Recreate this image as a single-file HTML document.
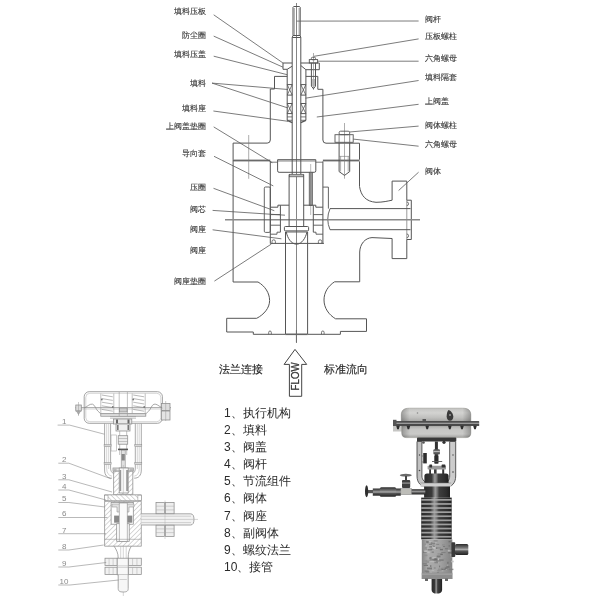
<!DOCTYPE html>
<html><head><meta charset="utf-8"><style>
html,body{margin:0;padding:0;background:#fff;width:600px;height:596px;overflow:hidden}
svg{display:block;font-family:"Liberation Sans",sans-serif;filter:blur(0.25px)}
</style></head><body>
<svg width="600" height="596" viewBox="0 0 600 596">
<defs>
<linearGradient id="gHousT" x1="0" y1="0" x2="0" y2="1"><stop offset="0" stop-color="#c4c4c2"/><stop offset="0.35" stop-color="#d3d3d1"/><stop offset="0.7" stop-color="#c0c0be"/><stop offset="1" stop-color="#a6a6a4"/></linearGradient>
<linearGradient id="gHousB" x1="0" y1="0" x2="0" y2="1"><stop offset="0" stop-color="#aeaeac"/><stop offset="0.3" stop-color="#c6c6c4"/><stop offset="0.7" stop-color="#cacac8"/><stop offset="1" stop-color="#a2a2a0"/></linearGradient>
<linearGradient id="gHousH" x1="0" y1="0" x2="1" y2="0"><stop offset="0" stop-color="#000" stop-opacity="0.25"/><stop offset="0.12" stop-color="#000" stop-opacity="0"/><stop offset="0.88" stop-color="#000" stop-opacity="0"/><stop offset="1" stop-color="#000" stop-opacity="0.25"/></linearGradient>
<linearGradient id="gCyl" x1="0" y1="0" x2="1" y2="0"><stop offset="0" stop-color="#2a2a2a"/><stop offset="0.3" stop-color="#3a3a3a"/><stop offset="0.43" stop-color="#9a9a9a"/><stop offset="0.5" stop-color="#7a7a7a"/><stop offset="0.58" stop-color="#3e3e3e"/><stop offset="0.85" stop-color="#2e2e2e"/><stop offset="1" stop-color="#1e1e1e"/></linearGradient>
<linearGradient id="gCylH" x1="0" y1="0" x2="0" y2="1"><stop offset="0" stop-color="#2a2a2a"/><stop offset="0.35" stop-color="#777"/><stop offset="0.5" stop-color="#aaa"/><stop offset="0.65" stop-color="#555"/><stop offset="1" stop-color="#222"/></linearGradient>
<linearGradient id="gBody" x1="0" y1="0" x2="1" y2="0"><stop offset="0" stop-color="#848484"/><stop offset="0.2" stop-color="#acacac"/><stop offset="0.6" stop-color="#a2a2a2"/><stop offset="1" stop-color="#828282"/></linearGradient>
<linearGradient id="gYoke" x1="0" y1="0" x2="1" y2="0"><stop offset="0" stop-color="#bdbdbd"/><stop offset="0.5" stop-color="#e2e2e2"/><stop offset="1" stop-color="#c8c8c8"/></linearGradient>
<pattern id="hA" width="3.4" height="3.4" patternUnits="userSpaceOnUse" patternTransform="rotate(45)"><rect width="3.4" height="3.4" fill="#fff"/><line x1="0" y1="0" x2="0" y2="3.4" stroke="#a8a8a8" stroke-width="0.9"/></pattern>
<pattern id="hB" width="3.4" height="3.4" patternUnits="userSpaceOnUse" patternTransform="rotate(-45)"><rect width="3.4" height="3.4" fill="#fff"/><line x1="0" y1="0" x2="0" y2="3.4" stroke="#a8a8a8" stroke-width="0.9"/></pattern>
</defs>
<rect width="600" height="596" fill="#fff"/>
<g id="main">
<line x1="296.5" y1="3" x2="296.5" y2="343" stroke="#666" stroke-width="0.8" />
<path d="M293,35.5 L293,7.3 L293.7,6.5 L299.5,6.5 L300.2,7.3 L300.2,35.5" stroke="#555" stroke-width="1.0" fill="none" />
<line x1="294.3" y1="8" x2="294.3" y2="35" stroke="#777" stroke-width="0.7" />
<line x1="299.1" y1="8" x2="299.1" y2="35" stroke="#777" stroke-width="0.7" />
<path d="M292.2,37.5 L293,35.5 L300.2,35.5 L300.8,37.5 Z" stroke="#555" stroke-width="1.0" fill="none" />
<line x1="292.2" y1="37.5" x2="292.2" y2="174.5" stroke="#555" stroke-width="1.0" />
<line x1="300.8" y1="37.5" x2="300.8" y2="174.5" stroke="#555" stroke-width="1.0" />
<path d="M292.2,63 L283,63 L283,69.3 L287.2,69.3 L292,66.3" stroke="#555" stroke-width="1.0" fill="none" />
<path d="M300.8,63 L319.3,63 L319.3,69.7 L305.9,69.7 L300.9,65.6" stroke="#555" stroke-width="1.0" fill="none" />
<line x1="287.2" y1="69.3" x2="287.2" y2="120.3" stroke="#555" stroke-width="1.0" />
<line x1="305.9" y1="69.7" x2="305.9" y2="120.3" stroke="#555" stroke-width="1.0" />
<line x1="287.2" y1="84.6" x2="292.2" y2="84.6" stroke="#555" stroke-width="1.0" />
<line x1="287.2" y1="95.1" x2="292.2" y2="95.1" stroke="#555" stroke-width="1.0" />
<line x1="287.2" y1="84.6" x2="292.2" y2="95.1" stroke="#555" stroke-width="0.8" />
<line x1="292.2" y1="84.6" x2="287.2" y2="95.1" stroke="#555" stroke-width="0.8" />
<line x1="300.8" y1="84.6" x2="305.9" y2="84.6" stroke="#555" stroke-width="1.0" />
<line x1="300.8" y1="95.1" x2="305.9" y2="95.1" stroke="#555" stroke-width="1.0" />
<line x1="300.8" y1="84.6" x2="305.9" y2="95.1" stroke="#555" stroke-width="0.8" />
<line x1="305.9" y1="84.6" x2="300.8" y2="95.1" stroke="#555" stroke-width="0.8" />
<line x1="287.2" y1="103.5" x2="292.2" y2="103.5" stroke="#555" stroke-width="1.0" />
<line x1="287.2" y1="113.6" x2="292.2" y2="113.6" stroke="#555" stroke-width="1.0" />
<line x1="287.2" y1="103.5" x2="292.2" y2="113.6" stroke="#555" stroke-width="0.8" />
<line x1="292.2" y1="103.5" x2="287.2" y2="113.6" stroke="#555" stroke-width="0.8" />
<line x1="300.8" y1="103.5" x2="305.9" y2="103.5" stroke="#555" stroke-width="1.0" />
<line x1="300.8" y1="113.6" x2="305.9" y2="113.6" stroke="#555" stroke-width="1.0" />
<line x1="300.8" y1="103.5" x2="305.9" y2="113.6" stroke="#555" stroke-width="0.8" />
<line x1="305.9" y1="103.5" x2="300.8" y2="113.6" stroke="#555" stroke-width="0.8" />
<line x1="287.2" y1="116.9" x2="292.2" y2="116.9" stroke="#555" stroke-width="0.8" />
<line x1="287.2" y1="120.3" x2="292.2" y2="120.3" stroke="#555" stroke-width="0.8" />
<line x1="300.8" y1="116.9" x2="305.9" y2="116.9" stroke="#555" stroke-width="0.8" />
<line x1="300.8" y1="120.3" x2="305.9" y2="120.3" stroke="#555" stroke-width="0.8" />
<path d="M287.2,120.3 L292.2,122.6" stroke="#555" stroke-width="1.3" fill="none" />
<path d="M305.9,120.3 L300.8,122.6" stroke="#555" stroke-width="1.3" fill="none" />
<line x1="313.5" y1="53" x2="313.5" y2="90" stroke="#777" stroke-width="0.6" />
<rect x="311.4" y="57.3" width="4.1" height="2.4" fill="none" stroke="#555" stroke-width="0.9" rx="1" />
<rect x="309.3" y="59.6" width="8.3" height="3.4" fill="none" stroke="#555" stroke-width="0.9" rx="0" />
<path d="M311.4,63 L311.4,86 L313.45,88.8 L315.5,86 L315.5,63" stroke="#555" stroke-width="1.0" fill="none" />
<line x1="312.3" y1="79" x2="312.3" y2="86" stroke="#777" stroke-width="0.6" />
<line x1="314.6" y1="79" x2="314.6" y2="86" stroke="#777" stroke-width="0.6" />
<path d="M287.2,76.4 L274.5,76.4 L274.5,89 L270.3,89 L270.3,140" stroke="#555" stroke-width="1.0" fill="none" />
<path d="M270.3,140 Q270.3,143.1 267.2,143.1 L233.1,143.1 L233.1,159.7" stroke="#555" stroke-width="1.0" fill="none" />
<path d="M305.9,76.4 L317.8,76.4 L317.8,89.3 L322.9,89.3 L322.9,140" stroke="#555" stroke-width="1.0" fill="none" />
<path d="M322.9,140 Q322.9,143.2 326,143.2 L359.5,143.2 L359.5,159.7" stroke="#555" stroke-width="1.0" fill="none" />
<rect x="233.1" y="159.6" width="37.2" height="1.8" fill="#6a6a6a" stroke="none" stroke-width="0" rx="0" />
<rect x="322.9" y="159.6" width="36.6" height="1.8" fill="#6a6a6a" stroke="none" stroke-width="0" rx="0" />
<line x1="270.3" y1="162.2" x2="277.6" y2="162.2" stroke="#555" stroke-width="0.8" />
<line x1="315.8" y1="162.2" x2="322.9" y2="162.2" stroke="#555" stroke-width="0.8" />
<path d="M233.1,159.7 L233.1,282 L258,282 C265,286 269.6,293 269.6,300.5 C269.6,308 264,314.5 256.7,318.3 L226.7,318.3 L226.7,332 L253.3,332 L253.3,334.3 L285.3,334.3" stroke="#555" stroke-width="1.0" fill="none" />
<path d="M268.7,334.3 L268.7,332.3 A1.3,1.3 0 0 1 271.3,332.3 L271.3,334.3" stroke="#555" stroke-width="0.8" fill="none" />
<path d="M307.6,334.3 L340.4,334.3 L340.4,331.4 L366.5,331.4 L366.5,318.8 L335.6,318.8 C329,315 324,308 324,300 C324,292.5 328,286 334.6,281.8 L359.7,281.8 L359.7,252 C360,244 365,238 372,237.6 L392.1,238.5" stroke="#555" stroke-width="1.0" fill="none" />
<path d="M321.5,334.3 L321.5,332.3 A1.3,1.3 0 0 1 324.1,332.3 L324.1,334.3" stroke="#555" stroke-width="0.8" fill="none" />
<path d="M359.5,161.4 L359.5,186.4 C361,196 366,201.5 376,202.3 C383,202.3 388,201 392.1,200.2" stroke="#555" stroke-width="1.0" fill="none" />
<path d="M392.1,200.2 L392.1,181.1 L406.8,181.1 L406.8,200.2 L411.3,200.2 L411.3,239.5 L406.8,239.5 L406.8,258.6 L392.1,258.6 L392.1,238.5" stroke="#555" stroke-width="1.0" fill="none" />
<path d="M406.8,202 A1.8,1.8 0 0 1 406.8,205.6" stroke="#555" stroke-width="0.8" fill="none" />
<path d="M406.8,234 A1.8,1.8 0 0 1 406.8,237.6" stroke="#555" stroke-width="0.8" fill="none" />
<line x1="406.8" y1="200.2" x2="406.8" y2="239.5" stroke="#555" stroke-width="0.6" />
<line x1="330" y1="208.6" x2="410.5" y2="208.6" stroke="#555" stroke-width="1.0" />
<line x1="330" y1="229.7" x2="410.5" y2="229.7" stroke="#555" stroke-width="1.0" />
<path d="M330,208.6 Q325.5,219.2 330,229.7" stroke="#555" stroke-width="0.9" fill="none" />
<path d="M322.9,187.1 L328.4,187.1 L328.4,208.6" stroke="#555" stroke-width="0.9" fill="none" />
<line x1="225" y1="219.8" x2="420" y2="219.8" stroke="#8a8a8a" stroke-width="1.4" />
<line x1="270.3" y1="161.4" x2="270.3" y2="243.4" stroke="#555" stroke-width="1.0" />
<line x1="322.9" y1="161.4" x2="322.9" y2="243.4" stroke="#555" stroke-width="1.0" />
<line x1="270.3" y1="243.4" x2="323.9" y2="243.4" stroke="#555" stroke-width="1.0" />
<line x1="285.5" y1="232" x2="285.5" y2="334.3" stroke="#555" stroke-width="1.0" />
<line x1="307.6" y1="232" x2="307.6" y2="334.3" stroke="#555" stroke-width="1.0" />
<line x1="285.3" y1="334.3" x2="307.6" y2="334.3" stroke="#666" stroke-width="1.6" />
<rect x="264.3" y="187" width="6" height="45.4" fill="none" stroke="#555" stroke-width="0.9" rx="1.2" />
<path d="M277.6,159.7 L315.8,159.7 L315.8,170.8 Q315.8,172.3 314.3,172.3 L279.1,172.3 Q277.6,172.3 277.6,170.8 Z" stroke="#555" stroke-width="1.0" fill="none" />
<line x1="277.6" y1="161" x2="315.8" y2="161" stroke="#555" stroke-width="0.7" />
<rect x="309.2" y="172.3" width="3.2" height="33" fill="#9a9a9a" stroke="#555" stroke-width="0.7" rx="0" />
<line x1="310.7" y1="164" x2="310.7" y2="215" stroke="#777" stroke-width="0.5" />
<line x1="289.1" y1="174.5" x2="289.1" y2="226.5" stroke="#555" stroke-width="1.0" />
<line x1="303.7" y1="174.5" x2="303.7" y2="226.5" stroke="#555" stroke-width="1.0" />
<rect x="289.4" y="174.3" width="14" height="2.5" fill="#bbb" stroke="#555" stroke-width="0.7" rx="0" />
<path d="M289.1,205.2 L280.4,205.2 L280.4,232.2" stroke="#555" stroke-width="1.0" fill="none" />
<path d="M303.7,205.2 L313.3,205.2 L313.3,232.2" stroke="#555" stroke-width="1.0" fill="none" />
<path d="M270.3,207.2 L277.9,207.2 L277.9,205.2 L280.4,205.2" stroke="#555" stroke-width="1.0" fill="none" />
<path d="M322.9,207.2 L315.8,207.2 L315.8,205.2 L313.3,205.2" stroke="#555" stroke-width="1.0" fill="none" />
<line x1="270.3" y1="214.6" x2="280.4" y2="214.6" stroke="#555" stroke-width="0.9" />
<line x1="313.3" y1="214.6" x2="322.9" y2="214.6" stroke="#555" stroke-width="0.9" />
<line x1="270.3" y1="225.2" x2="280.4" y2="225.2" stroke="#555" stroke-width="0.9" />
<line x1="313.3" y1="225.2" x2="322.9" y2="225.2" stroke="#555" stroke-width="0.9" />
<rect x="284.4" y="226.5" width="24.2" height="4.4" fill="none" stroke="#555" stroke-width="1" rx="1" />
<line x1="285.5" y1="232" x2="307.6" y2="232" stroke="#555" stroke-width="0.9" />
<path d="M286.3,232 C287.5,238 291,244 296.6,244.2 C302,244 305.5,238 307,232" stroke="#555" stroke-width="1" fill="none" />
<path d="M280.4,232.2 L277,232.2 L277,234.2 L270.3,234.2" stroke="#555" stroke-width="0.9" fill="none" />
<path d="M313.3,232.2 L316,232.2 L316,234.2 L322.9,234.2" stroke="#555" stroke-width="0.9" fill="none" />
<path d="M272,243.4 L272,241.5 A1.7,1.7 0 0 1 275.4,241.5 L275.4,243.4" stroke="#555" stroke-width="0.8" fill="none" />
<path d="M318.4,243.4 L318.4,241.5 A1.7,1.7 0 0 1 321.8,241.5 L321.8,243.4" stroke="#555" stroke-width="0.8" fill="none" />
<line x1="344.5" y1="123" x2="344.5" y2="178.7" stroke="#777" stroke-width="0.6" />
<rect x="339.1" y="131.2" width="10.6" height="3.5" fill="none" stroke="#555" stroke-width="0.9" rx="1.5" />
<rect x="335" y="134.7" width="18.2" height="7.6" fill="none" stroke="#555" stroke-width="0.9" rx="0" />
<line x1="339.1" y1="134.7" x2="339.1" y2="142.3" stroke="#555" stroke-width="0.7" />
<line x1="349.7" y1="134.7" x2="349.7" y2="142.3" stroke="#555" stroke-width="0.7" />
<path d="M339.1,142.9 L339.1,171.6 L344.5,175.4 L349.7,171.6 L349.7,142.9" stroke="#555" stroke-width="1.0" fill="none" />
<line x1="340.6" y1="156.4" x2="340.6" y2="171.6" stroke="#777" stroke-width="0.6" />
<line x1="348.2" y1="156.4" x2="348.2" y2="171.6" stroke="#777" stroke-width="0.6" />
<line x1="339.1" y1="156.4" x2="349.7" y2="156.4" stroke="#777" stroke-width="0.6" />
<line x1="248.7" y1="135" x2="248.7" y2="178.8" stroke="#777" stroke-width="0.6" />
<line x1="213.7" y1="14.8" x2="283" y2="63" stroke="#5a5a5a" stroke-width="0.8" />
<line x1="213.7" y1="36.1" x2="283" y2="67.2" stroke="#5a5a5a" stroke-width="0.8" />
<line x1="213.7" y1="56.2" x2="287.2" y2="74.7" stroke="#5a5a5a" stroke-width="0.8" />
<line x1="212" y1="83.1" x2="288" y2="89.5" stroke="#5a5a5a" stroke-width="0.8" />
<line x1="212" y1="83.1" x2="288" y2="108" stroke="#5a5a5a" stroke-width="0.8" />
<line x1="213.4" y1="111" x2="288" y2="121.3" stroke="#5a5a5a" stroke-width="0.8" />
<line x1="213.7" y1="126.9" x2="272.3" y2="162.7" stroke="#5a5a5a" stroke-width="0.8" />
<line x1="214" y1="156.3" x2="273.3" y2="185.9" stroke="#5a5a5a" stroke-width="0.8" />
<line x1="213.5" y1="188.3" x2="274.3" y2="210.7" stroke="#5a5a5a" stroke-width="0.8" />
<line x1="212.6" y1="210.4" x2="285" y2="215.2" stroke="#5a5a5a" stroke-width="0.8" />
<line x1="212.6" y1="229.8" x2="281.4" y2="238.8" stroke="#5a5a5a" stroke-width="0.8" />
<line x1="214.4" y1="281.1" x2="271.3" y2="244.1" stroke="#5a5a5a" stroke-width="0.8" />
<line x1="296.7" y1="21.1" x2="418.6" y2="21" stroke="#5a5a5a" stroke-width="0.8" />
<line x1="418.6" y1="38.9" x2="314" y2="56.3" stroke="#5a5a5a" stroke-width="0.8" />
<line x1="418.6" y1="61.2" x2="317.6" y2="61.2" stroke="#5a5a5a" stroke-width="0.8" />
<line x1="418.6" y1="80.5" x2="305.4" y2="98.2" stroke="#5a5a5a" stroke-width="0.8" />
<line x1="418.6" y1="104.3" x2="316.8" y2="117" stroke="#5a5a5a" stroke-width="0.8" />
<line x1="418.6" y1="126.1" x2="349.3" y2="132" stroke="#5a5a5a" stroke-width="0.8" />
<line x1="418.6" y1="146.2" x2="353.3" y2="139.1" stroke="#5a5a5a" stroke-width="0.8" />
<line x1="418.6" y1="172.2" x2="398.6" y2="190.5" stroke="#5a5a5a" stroke-width="0.8" />
<line x1="296.4" y1="330" x2="296.4" y2="342.3" stroke="#666" stroke-width="0.8" />
<path d="M295,349.4 L306.7,364.4 L301.7,364.4 L301.7,396.3 L289.4,396.3 L289.4,364.4 L284.1,364.4 Z" stroke="#444" stroke-width="1" fill="none" />
</g>
<g id="bl">
<rect x="84.2" y="391.7" width="78.2" height="31.6" fill="none" stroke="#8c8c8c" stroke-width="0.8" rx="5"/>
<rect x="85.8" y="393.3" width="75" height="28.4" fill="none" stroke="#aaa" stroke-width="0.5" rx="4"/>
<line x1="75.4" y1="407.6" x2="171" y2="407.6" stroke="#8c8c8c" stroke-width="0.75"/>
<line x1="75.4" y1="409" x2="171" y2="409" stroke="#aaa" stroke-width="0.5"/>
<rect x="75.8" y="405" width="5.5" height="6" fill="#ddd" stroke="#8c8c8c" stroke-width="0.75" rx="0"/>
<path d="M76.5,411 L80.5,411 L78.5,414.5 Z" stroke="#8c8c8c" stroke-width="0.6" fill="#bbb"/>
<rect x="161.5" y="403.5" width="8.5" height="7" fill="#ddd" stroke="#8c8c8c" stroke-width="0.75" rx="0"/>
<rect x="161.5" y="411" width="8.5" height="9" fill="#e4e4e4" stroke="#8c8c8c" stroke-width="0.75" rx="0"/>
<line x1="78.5" y1="402" x2="78.5" y2="416" stroke="#999" stroke-width="0.5"/>
<line x1="165.7" y1="401" x2="165.7" y2="421" stroke="#999" stroke-width="0.5"/>
<path d="M84.2,408 C88,406 90,403.6 92.6,404.2 C95,405 96,409.5 97.8,411 L100.8,413.8 L145.8,413.8 L148.8,411 C150.6,409.5 151.6,405 154,404.2 C156.6,403.6 158.6,406 162.4,408" stroke="#8c8c8c" stroke-width="0.75" fill="none"/>
<rect x="100.8" y="413.8" width="45" height="2.4" fill="#e8e8e8" stroke="#8c8c8c" stroke-width="0.75" rx="0"/>
<line x1="100.8" y1="393.5" x2="100.8" y2="413.8" stroke="#999" stroke-width="0.6"/>
<line x1="113.8" y1="393.5" x2="113.8" y2="413.8" stroke="#999" stroke-width="0.6"/>
<path d="M101.8,395.0 L112.8,396.8 M101.8,398.6 L112.8,400.40000000000003 M101.8,402.2 L112.8,404.0 M101.8,405.8 L112.8,407.6 M101.8,409.4 L112.8,411.2 " stroke="#8a8a8a" stroke-width="0.6" fill="none"/>
<circle cx="101.8" cy="399.5" r="0.9" fill="#777"/><circle cx="112.8" cy="407" r="0.9" fill="#777"/>
<line x1="132.2" y1="393.5" x2="132.2" y2="413.8" stroke="#999" stroke-width="0.6"/>
<line x1="145.2" y1="393.5" x2="145.2" y2="413.8" stroke="#999" stroke-width="0.6"/>
<path d="M133.2,395.0 L144.2,396.8 M133.2,398.6 L144.2,400.40000000000003 M133.2,402.2 L144.2,404.0 M133.2,405.8 L144.2,407.6 M133.2,409.4 L144.2,411.2 " stroke="#8a8a8a" stroke-width="0.6" fill="none"/>
<circle cx="133.2" cy="399.5" r="0.9" fill="#777"/><circle cx="144.2" cy="407" r="0.9" fill="#777"/>
<line x1="119.2" y1="392" x2="119.2" y2="416" stroke="#999" stroke-width="0.6"/>
<line x1="127.4" y1="392" x2="127.4" y2="416" stroke="#999" stroke-width="0.6"/>
<rect x="119.5" y="408" width="7.6" height="4" fill="#ccc" stroke="#8c8c8c" stroke-width="0.75" rx="0"/>
<line x1="110" y1="416.6" x2="136" y2="416.6" stroke="#999" stroke-width="0.6"/>
<line x1="110" y1="418.2" x2="136" y2="418.2" stroke="#999" stroke-width="0.6"/>
<rect x="113.6" y="419" width="18.2" height="5" fill="#e8e8e8" stroke="#8c8c8c" stroke-width="0.75" rx="0"/>
<rect x="116" y="419.5" width="2" height="4" fill="#666"/><rect x="127.5" y="419.5" width="2" height="4" fill="#666"/>
<rect x="116" y="424" width="14" height="7" fill="#f0f0f0" stroke="#8c8c8c" stroke-width="0.75" rx="0"/>
<rect x="117" y="425" width="1.6" height="5" fill="#777"/><rect x="127.5" y="425" width="1.6" height="5" fill="#777"/>
<path d="M104.6,423.6 L104.6,470 C104.6,475.5 107.5,478.2 112,478.2 M141.3,423.6 L141.3,470 C141.3,475.5 138.6,478.2 134.2,478.2" stroke="#8c8c8c" stroke-width="0.75" fill="none"/>
<path d="M110.6,423.6 L110.6,468 C110.6,471 111.5,472.5 113.6,473.5 M135.3,423.6 L135.3,468 C135.3,471 134.5,472.5 132.6,473.5" stroke="#8c8c8c" stroke-width="0.75" fill="none"/>
<path d="M106.7,424 L106.7,469 C106.7,473 108.5,475.5 112,476.2 M139.2,424 L139.2,469 C139.2,473 137.6,475.5 134.2,476.2" stroke="#aaa" stroke-width="0.5" fill="none"/>
<path d="M108.7,424 L108.7,469 M137.3,424 L137.3,469" stroke="#aaa" stroke-width="0.5" fill="none"/>
<rect x="104.1" y="444.5" width="7" height="2.2" fill="#d8d8d8" stroke="#8c8c8c" stroke-width="0.5" rx="0"/>
<rect x="134.8" y="444.5" width="7" height="2.2" fill="#d8d8d8" stroke="#8c8c8c" stroke-width="0.5" rx="0"/>
<rect x="104.1" y="462.5" width="7" height="2.2" fill="#d8d8d8" stroke="#8c8c8c" stroke-width="0.5" rx="0"/>
<rect x="134.8" y="462.5" width="7" height="2.2" fill="#d8d8d8" stroke="#8c8c8c" stroke-width="0.5" rx="0"/>
<line x1="119.7" y1="431" x2="119.7" y2="455" stroke="#999" stroke-width="0.6"/>
<line x1="126.7" y1="431" x2="126.7" y2="455" stroke="#999" stroke-width="0.6"/>
<rect x="118.2" y="435.7" width="9.5" height="8.5" fill="#ececec" stroke="#8c8c8c" stroke-width="0.75" rx="0"/>
<line x1="118.2" y1="438.5" x2="127.7" y2="438.5" stroke="#999" stroke-width="0.5"/>
<line x1="118.2" y1="441.5" x2="127.7" y2="441.5" stroke="#999" stroke-width="0.5"/>
<rect x="118" y="448.6" width="10" height="1.6" fill="#555"/>
<rect x="121.2" y="450.2" width="4" height="18" fill="#e0e0e0" stroke="#8c8c8c" stroke-width="0.6" rx="0"/>
<rect x="121.6" y="454" width="3.2" height="6.5" fill="#888"/>
<rect x="111" y="435" width="5.4" height="16" fill="none" stroke="#aaa" stroke-width="0.6" rx="0"/>
<rect x="113" y="468" width="20.3" height="3.2" fill="#e6e6e6" stroke="#8c8c8c" stroke-width="0.75" rx="0"/>
<rect x="113.3" y="468.3" width="3.3" height="2.6" fill="#bbb"/><rect x="129.7" y="468.3" width="3.3" height="2.6" fill="#bbb"/>
<path d="M113.6,471.2 L132.8,471.2 L132.8,494.8 L113.6,494.8 Z" stroke="#8c8c8c" stroke-width="0.75" fill="url(#hA)"/>
<rect x="119.2" y="468" width="9" height="25" fill="#fafafa" stroke="#8c8c8c" stroke-width="0.75" rx="0"/>
<rect x="119.4" y="470" width="1.8" height="21" fill="#999"/><rect x="126.2" y="470" width="1.8" height="21" fill="#999"/>
<line x1="123.3" y1="465" x2="123.3" y2="596" stroke="#aaa" stroke-width="0.5"/>
<path d="M104.6,494.8 L141.3,494.8 L141.3,500.8 L104.6,500.8 Z" stroke="#8c8c8c" stroke-width="0.75" fill="url(#hB)"/>
<rect x="104.6" y="495.2" width="3.4" height="5.2" fill="#fff" stroke="#8c8c8c" stroke-width="0.5" rx="0"/>
<rect x="137.9" y="495.2" width="3.4" height="5.2" fill="#fff" stroke="#8c8c8c" stroke-width="0.5" rx="0"/>
<path d="M104.6,501.3 L141.3,501.3 L141.3,546.2 L104.6,546.2 Z" stroke="#8c8c8c" stroke-width="0.75" fill="url(#hA)"/>
<rect x="111.1" y="502.6" width="22.2" height="21.6" fill="#fff" stroke="#8c8c8c" stroke-width="0.75" rx="0"/>
<path d="M112,504 L134,504 L134,507 L129,507 L129,512 L117,512 L117,507 L112,507 Z" stroke="#999" stroke-width="0.6" fill="#e0e0e0"/>
<rect x="114.1" y="515.6" width="5.1" height="7.1" fill="#8a8a8a"/><rect x="127.2" y="515.6" width="5.1" height="7.1" fill="#8a8a8a"/>
<rect x="116.7" y="523.7" width="12.5" height="17.6" fill="#fff" stroke="#8c8c8c" stroke-width="0.75" rx="0"/>
<rect x="119.2" y="503" width="8" height="38.3" fill="#fbfbfb" stroke="#8c8c8c" stroke-width="0.6" rx="0"/>
<line x1="104.6" y1="539.3" x2="141.3" y2="539.3" stroke="#999" stroke-width="0.6"/>
<path d="M141.3,513.8 L190.5,513.8 C193,513.8 194,516 194,519.4 C194,522.8 193,525 190.5,525 L141.3,525" stroke="#8c8c8c" stroke-width="0.75" fill="#f2f2f2"/>
<line x1="141.3" y1="516.2" x2="191" y2="516.2" stroke="#aaa" stroke-width="0.5"/>
<line x1="141.3" y1="522.6" x2="191" y2="522.6" stroke="#aaa" stroke-width="0.5"/>
<line x1="141" y1="519.4" x2="198" y2="519.4" stroke="#aaa" stroke-width="0.5"/>
<rect x="156" y="502.5" width="8.6" height="11.2" fill="#eee" stroke="#8c8c8c" stroke-width="0.75" rx="0"/>
<line x1="156" y1="506.2" x2="164.6" y2="506.2" stroke="#aaa" stroke-width="0.5"/>
<line x1="156" y1="509.9" x2="164.6" y2="509.9" stroke="#aaa" stroke-width="0.5"/>
<rect x="165.5" y="502.5" width="8.6" height="11.2" fill="#eee" stroke="#8c8c8c" stroke-width="0.75" rx="0"/>
<line x1="165.5" y1="506.2" x2="174.1" y2="506.2" stroke="#aaa" stroke-width="0.5"/>
<line x1="165.5" y1="509.9" x2="174.1" y2="509.9" stroke="#aaa" stroke-width="0.5"/>
<rect x="156" y="525.2" width="8.6" height="11.2" fill="#eee" stroke="#8c8c8c" stroke-width="0.75" rx="0"/>
<line x1="156" y1="528.9000000000001" x2="164.6" y2="528.9000000000001" stroke="#aaa" stroke-width="0.5"/>
<line x1="156" y1="532.6" x2="164.6" y2="532.6" stroke="#aaa" stroke-width="0.5"/>
<rect x="165.5" y="525.2" width="8.6" height="11.2" fill="#eee" stroke="#8c8c8c" stroke-width="0.75" rx="0"/>
<line x1="165.5" y1="528.9000000000001" x2="174.1" y2="528.9000000000001" stroke="#aaa" stroke-width="0.5"/>
<line x1="165.5" y1="532.6" x2="174.1" y2="532.6" stroke="#aaa" stroke-width="0.5"/>
<line x1="165" y1="500.5" x2="165" y2="539" stroke="#b0b0b0" stroke-width="0.5"/>
<path d="M114.1,546.2 C116.5,550 118.2,553 118.2,558.2 M131.3,546.2 C129,550 128.2,553 128.2,558.2" stroke="#8c8c8c" stroke-width="0.75" fill="none"/>
<line x1="120.7" y1="546.2" x2="120.7" y2="574" stroke="#aaa" stroke-width="0.5"/>
<line x1="126.2" y1="546.2" x2="126.2" y2="574" stroke="#aaa" stroke-width="0.5"/>
<rect x="105" y="558.2" width="12.2" height="7.2" fill="#f2f2f2" stroke="#8c8c8c" stroke-width="0.75" rx="0"/>
<line x1="109.06666666666666" y1="558.2" x2="109.06666666666666" y2="565.4000000000001" stroke="#aaa" stroke-width="0.5"/>
<line x1="113.13333333333333" y1="558.2" x2="113.13333333333333" y2="565.4000000000001" stroke="#aaa" stroke-width="0.5"/>
<rect x="105" y="567.2" width="12.2" height="7.2" fill="#f2f2f2" stroke="#8c8c8c" stroke-width="0.75" rx="0"/>
<line x1="109.06666666666666" y1="567.2" x2="109.06666666666666" y2="574.4000000000001" stroke="#aaa" stroke-width="0.5"/>
<line x1="113.13333333333333" y1="567.2" x2="113.13333333333333" y2="574.4000000000001" stroke="#aaa" stroke-width="0.5"/>
<rect x="128.2" y="558.2" width="13.1" height="7.2" fill="#f2f2f2" stroke="#8c8c8c" stroke-width="0.75" rx="0"/>
<line x1="132.56666666666666" y1="558.2" x2="132.56666666666666" y2="565.4000000000001" stroke="#aaa" stroke-width="0.5"/>
<line x1="136.9333333333333" y1="558.2" x2="136.9333333333333" y2="565.4000000000001" stroke="#aaa" stroke-width="0.5"/>
<rect x="128.2" y="567.2" width="13.1" height="7.2" fill="#f2f2f2" stroke="#8c8c8c" stroke-width="0.75" rx="0"/>
<line x1="132.56666666666666" y1="567.2" x2="132.56666666666666" y2="574.4000000000001" stroke="#aaa" stroke-width="0.5"/>
<line x1="136.9333333333333" y1="567.2" x2="136.9333333333333" y2="574.4000000000001" stroke="#aaa" stroke-width="0.5"/>
<rect x="117.2" y="558.2" width="11" height="16.6" fill="#f8f8f8" stroke="#8c8c8c" stroke-width="0.75" rx="0"/>
<line x1="117.2" y1="565.8" x2="128.2" y2="565.8" stroke="#aaa" stroke-width="0.5"/>
<line x1="117.2" y1="567.4" x2="128.2" y2="567.4" stroke="#aaa" stroke-width="0.5"/>
<path d="M118.2,574.8 L118.2,588.5 C118.2,591 119.5,592 123.2,592 C127,592 128.2,591 128.2,588.5 L128.2,574.8" stroke="#8c8c8c" stroke-width="0.75" fill="#f6f6f6"/>
<line x1="119.5" y1="579.5" x2="126.8" y2="579.5" stroke="#aaa" stroke-width="0.5"/>
<text x="62" y="423.7" font-size="8" fill="#8a8a8a">1</text>
<path d="M57.6,425.1 L69.6,425.1 L104.4,434.2" stroke="#8a8a8a" stroke-width="0.6" fill="none"/>
<text x="62" y="462.2" font-size="8" fill="#8a8a8a">2</text>
<path d="M58.3,463.2 L68.9,463.2 L111,478.8" stroke="#8a8a8a" stroke-width="0.6" fill="none"/>
<text x="62" y="478.79999999999995" font-size="8" fill="#8a8a8a">3</text>
<path d="M58.3,479.8 L68.9,479.8 L112,492" stroke="#8a8a8a" stroke-width="0.6" fill="none"/>
<text x="62" y="488.7" font-size="8" fill="#8a8a8a">4</text>
<path d="M58.3,490 L68.9,490 L106,500" stroke="#8a8a8a" stroke-width="0.6" fill="none"/>
<text x="62" y="501.4" font-size="8" fill="#8a8a8a">5</text>
<path d="M58.3,502.5 L68.9,502.5 L105,507" stroke="#8a8a8a" stroke-width="0.6" fill="none"/>
<text x="62" y="516.4" font-size="8" fill="#8a8a8a">6</text>
<path d="M58.3,517.5 L107.5,517.5" stroke="#8a8a8a" stroke-width="0.6" fill="none"/>
<text x="62" y="532.6999999999999" font-size="8" fill="#8a8a8a">7</text>
<path d="M58.3,533.7 L106,533.7" stroke="#8a8a8a" stroke-width="0.6" fill="none"/>
<text x="62" y="548.9" font-size="8" fill="#8a8a8a">8</text>
<path d="M58.3,550 L68.9,550 L103.7,545" stroke="#8a8a8a" stroke-width="0.6" fill="none"/>
<text x="62" y="565.9" font-size="8" fill="#8a8a8a">9</text>
<path d="M58.3,567 L68.9,567 L106.2,562.5" stroke="#8a8a8a" stroke-width="0.6" fill="none"/>
<text x="59.5" y="583.9" font-size="8" fill="#8a8a8a">10</text>
<path d="M58.3,585 L70,585 L118.7,580" stroke="#8a8a8a" stroke-width="0.6" fill="none"/>
</g>
<g id="photo">
<path d="M401.3,421.5 L401.3,415 C401.3,410 404,408.2 409.5,408.2 L462.6,408.2 C468,408.2 470.8,410 470.8,415 L470.8,421.5 Z" fill="url(#gHousT)" stroke="#9a9a96" stroke-width="0.6"/>
<path d="M401.3,421.5 L401.3,415 C401.3,410 404,408.2 409.5,408.2 L462.6,408.2 C468,408.2 470.8,410 470.8,415 L470.8,421.5 Z" fill="url(#gHousH)"/>
<path d="M448.5,410 C450.5,410.5 453,413 453.3,416.5 C453.3,419 452,420.7 450,420.7 C448,420.7 446.7,419 446.7,416.5 C446.7,413 447.5,411 448.5,410 Z" fill="#3a3a3a"/>
<circle cx="450" cy="415" r="1" fill="#999"/>
<rect x="422.5" y="419" width="3.5" height="2" fill="#555"/>
<circle cx="417.5" cy="413" r="0.8" fill="#888"/>
<rect x="393" y="425.5" width="9" height="6" fill="#c6c6c4"/>
<path d="M401.75,425.8 L470.8,425.8 L470.8,433 Q470.8,437.6 466.2,437.6 L406.3,437.6 Q401.75,437.6 401.75,433 Z" fill="url(#gHousB)" stroke="#9a9a96" stroke-width="0.6"/>
<path d="M401.75,425.8 L470.8,425.8 L470.8,433 Q470.8,437.6 466.2,437.6 L406.3,437.6 Q401.75,437.6 401.75,433 Z" fill="url(#gHousH)"/>
<rect x="393" y="421.2" width="86.2" height="4.6" fill="#9a9a9a" rx="0.8"/>
<rect x="393" y="421.2" width="86.2" height="1.4" fill="#333" rx="0.6"/>
<rect x="393" y="424.2" width="86.2" height="1.6" fill="#2e2e2e" rx="0.6"/>
<rect x="393" y="419.8" width="3.5" height="6" fill="#555"/>
<path d="M396.2,425.8 L399.8,425.8 L398.8,429.3 L397.2,429.3 Z" fill="#2e2e2e"/>
<path d="M406.59999999999997,425.8 L410.2,425.8 L409.2,429.3 L407.59999999999997,429.3 Z" fill="#2e2e2e"/>
<path d="M425.4,425.8 L429.0,425.8 L428.0,429.3 L426.4,429.3 Z" fill="#2e2e2e"/>
<path d="M448.0,425.8 L451.6,425.8 L450.6,429.3 L449.0,429.3 Z" fill="#2e2e2e"/>
<path d="M460.2,425.8 L463.8,425.8 L462.8,429.3 L461.2,429.3 Z" fill="#2e2e2e"/>
<path d="M473.2,425.8 L476.8,425.8 L475.8,429.3 L474.2,429.3 Z" fill="#2e2e2e"/>
<rect x="417" y="437.6" width="39.3" height="4" fill="#383838" rx="0.8"/>
<circle cx="423.5" cy="442.5" r="1.3" fill="#555"/><circle cx="444" cy="442.3" r="1.6" fill="#333"/><circle cx="452.5" cy="442.8" r="1.5" fill="#3a3a3a"/>
<path d="M417,441.5 L417,476 C417,483 421,487 428,487 L446,487 C452,487 455.7,483 455.7,476 L455.7,441.5 L449.7,441.5 L449.7,476 C449.7,480 447,483 444,483 L429,483 C425,483 421.9,480 421.9,476 L421.9,441.5 Z" fill="url(#gYoke)" stroke="#4a4a4a" stroke-width="0.9"/>
<circle cx="419.5" cy="455" r="0.7" fill="#444"/><circle cx="419.5" cy="470.5" r="0.8" fill="#444"/><circle cx="453" cy="455" r="0.7" fill="#444"/><circle cx="453" cy="472" r="0.8" fill="#444"/>
<rect x="434.9" y="441.5" width="3" height="22" fill="#333"/>
<rect x="433.4" y="449.2" width="6.5" height="5.4" fill="#555" rx="1"/><rect x="433.4" y="450.8" width="6.5" height="1.4" fill="#bbb"/>
<rect x="434.3" y="455.5" width="4.2" height="8" fill="#2a2a2a"/>
<rect x="432" y="461" width="10.2" height="0.9" fill="#555"/>
<rect x="423.2" y="453" width="3.6" height="10.4" fill="#2e2e2e"/>
<path d="M421.9,456 L423.2,456 M421.9,462 L423.2,462" stroke="#555" stroke-width="0.6" fill="none"/>
<rect x="429.2" y="469" width="1.8" height="5" fill="#333"/><rect x="434" y="469" width="2.6" height="5" fill="#3a3a3a"/><rect x="442.2" y="469" width="2" height="5" fill="#333"/>
<rect x="427.6" y="465.8" width="18.4" height="3.6" fill="#9a9a9a" rx="0.6"/>
<rect x="429.3" y="464.5" width="2.8" height="3" fill="#333" rx="0.5"/><rect x="441.6" y="464.5" width="3.8" height="3" fill="#333" rx="0.5"/>
<path d="M424.4,483.5 L424.4,476 Q424.4,473.5 427,473.5 L446,473.5 Q448.6,473.5 448.6,476 L448.6,483.5 Z" fill="url(#gCyl)"/>
<path d="M420.6,483 L451.2,483 L451.2,486.9 L420.6,486.9 Z" fill="#cfcfcf"/>
<path d="M420.6,483 L451.2,483" stroke="#777" stroke-width="0.5"/>
<rect x="424.1" y="486.5" width="25.9" height="11.2" fill="url(#gCyl)"/>
<rect x="421.2" y="497.6" width="30.5" height="41.7" fill="url(#gCyl)"/>
<rect x="421.2" y="499.0" width="30.5" height="1.7" fill="#acacac" opacity="0.9"/>
<rect x="421.2" y="503.1" width="30.5" height="1.7" fill="#acacac" opacity="0.9"/>
<rect x="421.2" y="507.2" width="30.5" height="1.7" fill="#acacac" opacity="0.9"/>
<rect x="421.2" y="511.3" width="30.5" height="1.7" fill="#acacac" opacity="0.9"/>
<rect x="421.2" y="515.4" width="30.5" height="1.7" fill="#acacac" opacity="0.9"/>
<rect x="421.2" y="519.5" width="30.5" height="1.7" fill="#acacac" opacity="0.9"/>
<rect x="421.2" y="523.6" width="30.5" height="1.7" fill="#acacac" opacity="0.9"/>
<rect x="421.2" y="527.7" width="30.5" height="1.7" fill="#acacac" opacity="0.9"/>
<rect x="421.2" y="531.8" width="30.5" height="1.7" fill="#acacac" opacity="0.9"/>
<rect x="421.2" y="535.9" width="30.5" height="1.7" fill="#acacac" opacity="0.9"/>
<rect x="421.8" y="539.3" width="30.5" height="39.7" fill="url(#gBody)"/>
<rect x="429.3" y="557.4" width="2.5" height="1.4" fill="#666" opacity="0.8"/>
<rect x="439.1" y="559.4" width="4.6" height="1.3" fill="#6e6e6e" opacity="0.8"/>
<rect x="429.2" y="571.9" width="2.9" height="1.8" fill="#bdbdbd" opacity="0.8"/>
<rect x="433.8" y="567.6" width="1.9" height="0.8" fill="#6e6e6e" opacity="0.8"/>
<rect x="433.6" y="540.5" width="4.1" height="0.8" fill="#6e6e6e" opacity="0.8"/>
<rect x="423.7" y="565.0" width="4.3" height="1.0" fill="#6e6e6e" opacity="0.8"/>
<rect x="443.0" y="568.1" width="3.9" height="1.9" fill="#bdbdbd" opacity="0.8"/>
<rect x="443.3" y="558.5" width="4.9" height="0.8" fill="#8e8e8e" opacity="0.8"/>
<rect x="425.3" y="544.4" width="1.9" height="2.0" fill="#bdbdbd" opacity="0.8"/>
<rect x="444.7" y="567.4" width="2.7" height="1.8" fill="#6e6e6e" opacity="0.8"/>
<rect x="432.5" y="558.7" width="3.3" height="1.9" fill="#666" opacity="0.8"/>
<rect x="448.6" y="540.9" width="2.1" height="1.4" fill="#666" opacity="0.8"/>
<rect x="427.1" y="567.5" width="4.9" height="1.9" fill="#6e6e6e" opacity="0.8"/>
<rect x="425.5" y="561.0" width="3.5" height="2.0" fill="#8e8e8e" opacity="0.8"/>
<rect x="430.6" y="542.0" width="4.4" height="2.0" fill="#7a7a7a" opacity="0.8"/>
<rect x="432.3" y="542.1" width="4.6" height="0.6" fill="#bdbdbd" opacity="0.8"/>
<rect x="444.4" y="567.9" width="1.2" height="1.5" fill="#7a7a7a" opacity="0.8"/>
<rect x="433.3" y="558.8" width="3.2" height="1.9" fill="#8e8e8e" opacity="0.8"/>
<rect x="436.9" y="572.0" width="2.2" height="0.7" fill="#6e6e6e" opacity="0.8"/>
<rect x="437.8" y="570.4" width="4.9" height="1.0" fill="#8e8e8e" opacity="0.8"/>
<rect x="427.0" y="541.4" width="4.5" height="1.0" fill="#c4c4c4" opacity="0.8"/>
<rect x="448.1" y="552.1" width="2.8" height="1.3" fill="#666" opacity="0.8"/>
<rect x="447.2" y="561.8" width="1.4" height="2.0" fill="#6e6e6e" opacity="0.8"/>
<rect x="430.2" y="560.3" width="3.9" height="1.9" fill="#bdbdbd" opacity="0.8"/>
<rect x="450.4" y="556.7" width="3.2" height="0.6" fill="#bdbdbd" opacity="0.8"/>
<rect x="450.6" y="550.1" width="2.5" height="1.4" fill="#c4c4c4" opacity="0.8"/>
<rect x="424.2" y="560.1" width="2.9" height="1.6" fill="#8e8e8e" opacity="0.8"/>
<rect x="439.9" y="548.9" width="3.0" height="1.4" fill="#666" opacity="0.8"/>
<rect x="423.1" y="551.8" width="3.5" height="1.0" fill="#6e6e6e" opacity="0.8"/>
<rect x="431.6" y="551.6" width="2.3" height="1.1" fill="#6e6e6e" opacity="0.8"/>
<rect x="430.0" y="565.2" width="1.4" height="1.7" fill="#6e6e6e" opacity="0.8"/>
<rect x="442.0" y="544.2" width="3.0" height="1.5" fill="#8e8e8e" opacity="0.8"/>
<rect x="429.3" y="546.0" width="2.7" height="1.6" fill="#7a7a7a" opacity="0.8"/>
<rect x="439.6" y="570.4" width="3.7" height="0.9" fill="#c4c4c4" opacity="0.8"/>
<rect x="424.8" y="563.7" width="1.9" height="1.4" fill="#8e8e8e" opacity="0.8"/>
<rect x="428.9" y="543.9" width="3.1" height="0.9" fill="#6e6e6e" opacity="0.8"/>
<rect x="427.7" y="548.9" width="4.2" height="1.5" fill="#6e6e6e" opacity="0.8"/>
<rect x="432.3" y="544.2" width="2.2" height="1.7" fill="#8e8e8e" opacity="0.8"/>
<rect x="435.7" y="560.3" width="2.2" height="1.4" fill="#7a7a7a" opacity="0.8"/>
<rect x="448.7" y="545.0" width="1.0" height="1.9" fill="#6e6e6e" opacity="0.8"/>
<rect x="450.6" y="553.9" width="4.8" height="1.9" fill="#c4c4c4" opacity="0.8"/>
<rect x="423.4" y="554.6" width="4.0" height="1.6" fill="#8e8e8e" opacity="0.8"/>
<rect x="438.0" y="568.5" width="4.4" height="1.8" fill="#8e8e8e" opacity="0.8"/>
<rect x="425.9" y="547.8" width="1.1" height="1.7" fill="#6e6e6e" opacity="0.8"/>
<rect x="448.8" y="568.7" width="4.6" height="1.4" fill="#7a7a7a" opacity="0.8"/>
<rect x="436.2" y="543.9" width="3.0" height="0.9" fill="#7a7a7a" opacity="0.8"/>
<rect x="437.5" y="553.2" width="4.8" height="1.5" fill="#8e8e8e" opacity="0.8"/>
<rect x="426.1" y="571.1" width="3.2" height="1.7" fill="#7a7a7a" opacity="0.8"/>
<rect x="432.5" y="546.3" width="3.1" height="1.7" fill="#c4c4c4" opacity="0.8"/>
<rect x="429.3" y="548.8" width="4.6" height="0.8" fill="#7a7a7a" opacity="0.8"/>
<rect x="436.4" y="558.3" width="2.6" height="1.7" fill="#c4c4c4" opacity="0.8"/>
<rect x="430.2" y="556.9" width="2.7" height="1.3" fill="#7a7a7a" opacity="0.8"/>
<rect x="446.9" y="564.8" width="1.2" height="0.7" fill="#bdbdbd" opacity="0.8"/>
<rect x="450.3" y="567.3" width="1.3" height="1.3" fill="#8e8e8e" opacity="0.8"/>
<rect x="427.0" y="542.3" width="2.5" height="1.1" fill="#8e8e8e" opacity="0.8"/>
<rect x="432.8" y="546.1" width="2.3" height="0.8" fill="#6e6e6e" opacity="0.8"/>
<rect x="422.6" y="563.1" width="4.2" height="1.4" fill="#7a7a7a" opacity="0.8"/>
<rect x="433.1" y="559.3" width="4.1" height="1.1" fill="#7a7a7a" opacity="0.8"/>
<rect x="440.3" y="553.8" width="2.5" height="1.3" fill="#666" opacity="0.8"/>
<rect x="431.5" y="570.4" width="2.7" height="0.6" fill="#c4c4c4" opacity="0.8"/>
<rect x="437.8" y="562.2" width="1.3" height="1.2" fill="#bdbdbd" opacity="0.8"/>
<rect x="426.2" y="540.9" width="2.3" height="2.0" fill="#6e6e6e" opacity="0.8"/>
<rect x="445.0" y="548.4" width="2.9" height="0.8" fill="#666" opacity="0.8"/>
<rect x="441.4" y="568.4" width="4.2" height="1.5" fill="#666" opacity="0.8"/>
<rect x="431.6" y="557.0" width="4.2" height="1.6" fill="#bdbdbd" opacity="0.8"/>
<rect x="426.6" y="564.8" width="1.2" height="0.7" fill="#7a7a7a" opacity="0.8"/>
<rect x="441.3" y="552.0" width="4.3" height="1.1" fill="#7a7a7a" opacity="0.8"/>
<rect x="423.2" y="543.7" width="2.9" height="1.6" fill="#8e8e8e" opacity="0.8"/>
<rect x="439.0" y="565.6" width="1.1" height="1.7" fill="#6e6e6e" opacity="0.8"/>
<rect x="437.6" y="547.6" width="3.2" height="0.7" fill="#6e6e6e" opacity="0.8"/>
<rect x="424.2" y="550.4" width="3.3" height="1.8" fill="#c4c4c4" opacity="0.8"/>
<rect x="451.0" y="560.7" width="2.8" height="1.6" fill="#bdbdbd" opacity="0.8"/>
<rect x="429.7" y="559.2" width="4.8" height="1.4" fill="#7a7a7a" opacity="0.8"/>
<rect x="433.2" y="547.5" width="4.7" height="1.8" fill="#c4c4c4" opacity="0.8"/>
<rect x="434.3" y="558.2" width="3.3" height="1.9" fill="#666" opacity="0.8"/>
<rect x="436.3" y="560.6" width="4.6" height="0.8" fill="#7a7a7a" opacity="0.8"/>
<rect x="436.7" y="555.5" width="3.8" height="1.9" fill="#6e6e6e" opacity="0.8"/>
<rect x="443.0" y="546.0" width="2.1" height="0.9" fill="#6e6e6e" opacity="0.8"/>
<rect x="437.2" y="569.9" width="4.4" height="1.4" fill="#8e8e8e" opacity="0.8"/>
<rect x="441.6" y="567.4" width="3.4" height="1.4" fill="#8e8e8e" opacity="0.8"/>
<rect x="447.8" y="549.8" width="2.1" height="1.7" fill="#c4c4c4" opacity="0.8"/>
<rect x="427.4" y="551.5" width="2.3" height="1.7" fill="#c4c4c4" opacity="0.8"/>
<rect x="434.4" y="562.3" width="3.8" height="0.9" fill="#6e6e6e" opacity="0.8"/>
<rect x="446.3" y="566.3" width="3.2" height="1.3" fill="#666" opacity="0.8"/>
<rect x="424.6" y="570.3" width="4.1" height="1.8" fill="#7a7a7a" opacity="0.8"/>
<rect x="435.8" y="547.3" width="1.9" height="1.6" fill="#666" opacity="0.8"/>
<rect x="424.5" y="547.0" width="2.0" height="1.8" fill="#8e8e8e" opacity="0.8"/>
<rect x="426.4" y="559.9" width="3.7" height="0.7" fill="#8e8e8e" opacity="0.8"/>
<rect x="427.3" y="541.4" width="1.7" height="0.7" fill="#7a7a7a" opacity="0.8"/>
<rect x="425.9" y="548.5" width="4.7" height="0.7" fill="#bdbdbd" opacity="0.8"/>
<rect x="421.8" y="572.6" width="30.5" height="6.4" fill="#8d8d8d"/>
<rect x="421.8" y="573.6" width="30.5" height="1" fill="#aaa"/>
<rect x="425" y="578.5" width="3" height="2.5" fill="#666"/><rect x="445" y="578.5" width="3" height="2.5" fill="#666"/>
<rect x="451.4" y="542.3" width="3.8" height="14.7" fill="#3a3a3a" rx="0.8"/>
<rect x="455" y="544" width="13.3" height="11" fill="url(#gCylH)" rx="1.5"/>
<path d="M431.6,579 L442.1,579 L442.1,590 C442.1,592.5 440,593.6 436.8,593.6 C433.6,593.6 431.6,592.5 431.6,590 Z" fill="url(#gCyl)"/>
<rect x="411.3" y="489.2" width="14" height="5.3" fill="url(#gCylH)"/>
<rect x="400.8" y="488.7" width="10.5" height="5.8" fill="#bdbdb8" stroke="#777" stroke-width="0.5"/>
<ellipse cx="405.8" cy="475.2" rx="6" ry="1.4" fill="#6a6a6a"/>
<rect x="405" y="476" width="2" height="4" fill="#444"/>
<rect x="402" y="480" width="8.2" height="8" fill="#3e3e3e" rx="1"/><rect x="402" y="482.5" width="8.2" height="1.2" fill="#999"/>
<rect x="372.8" y="488.5" width="28" height="7.2" fill="url(#gCylH)"/>
<rect x="379.8" y="487.2" width="16.4" height="9.6" fill="url(#gCylH)" rx="1.5"/>
<rect x="368" y="490" width="5" height="3.2" fill="#555"/>
<ellipse cx="366.6" cy="491.3" rx="1.6" ry="6" fill="#2e2e2e"/>
</g>
<g id="txt">
<text x="205.6" y="14.3" font-size="8.4" text-anchor="end" fill="#383838" stroke="#383838" stroke-width="0.12">填料压板</text>
<text x="205.6" y="38.0" font-size="8.4" text-anchor="end" fill="#383838" stroke="#383838" stroke-width="0.12">防尘圈</text>
<text x="205.6" y="56.7" font-size="8.4" text-anchor="end" fill="#383838" stroke="#383838" stroke-width="0.12">填料压盖</text>
<text x="205.6" y="85.6" font-size="8.4" text-anchor="end" fill="#383838" stroke="#383838" stroke-width="0.12">填料</text>
<text x="205.6" y="111.0" font-size="8.4" text-anchor="end" fill="#383838" stroke="#383838" stroke-width="0.12">填料座</text>
<text x="205.6" y="129.0" font-size="8.4" text-anchor="end" fill="#383838" stroke="#383838" stroke-width="0.12">上阀盖垫圈</text>
<text x="205.6" y="156.0" font-size="8.4" text-anchor="end" fill="#383838" stroke="#383838" stroke-width="0.12">导向套</text>
<text x="205.6" y="189.8" font-size="8.4" text-anchor="end" fill="#383838" stroke="#383838" stroke-width="0.12">压圈</text>
<text x="205.6" y="211.6" font-size="8.4" text-anchor="end" fill="#383838" stroke="#383838" stroke-width="0.12">阀芯</text>
<text x="205.6" y="232.4" font-size="8.4" text-anchor="end" fill="#383838" stroke="#383838" stroke-width="0.12">阀座</text>
<text x="205.6" y="253.0" font-size="8.4" text-anchor="end" fill="#383838" stroke="#383838" stroke-width="0.12">阀座</text>
<text x="205.6" y="283.5" font-size="8.4" text-anchor="end" fill="#383838" stroke="#383838" stroke-width="0.12">阀座垫圈</text>
<text x="425.3" y="22.0" font-size="8.4" text-anchor="start" fill="#383838" stroke="#383838" stroke-width="0.12">阀杆</text>
<text x="425.3" y="39.4" font-size="8.4" text-anchor="start" fill="#383838" stroke="#383838" stroke-width="0.12">压板螺柱</text>
<text x="425.3" y="60.9" font-size="8.4" text-anchor="start" fill="#383838" stroke="#383838" stroke-width="0.12">六角螺母</text>
<text x="425.3" y="80.2" font-size="8.4" text-anchor="start" fill="#383838" stroke="#383838" stroke-width="0.12">填料隔套</text>
<text x="425.3" y="104.0" font-size="8.4" text-anchor="start" fill="#383838" stroke="#383838" stroke-width="0.12">上阀盖</text>
<text x="425.3" y="127.9" font-size="8.4" text-anchor="start" fill="#383838" stroke="#383838" stroke-width="0.12">阀体螺柱</text>
<text x="425.3" y="147.1" font-size="8.4" text-anchor="start" fill="#383838" stroke="#383838" stroke-width="0.12">六角螺母</text>
<text x="425.3" y="174.4" font-size="8.4" text-anchor="start" fill="#383838" stroke="#383838" stroke-width="0.12">阀体</text>
<text x="219" y="373" font-size="11.2" text-anchor="start" fill="#2a2a2a" stroke="#2a2a2a" stroke-width="0.15">法兰连接</text>
<text x="324" y="373" font-size="11.2" text-anchor="start" fill="#2a2a2a" stroke="#2a2a2a" stroke-width="0.15">标准流向</text>
<text x="0" y="0" font-size="10.5" fill="#333" transform="translate(299,390.4) rotate(-90)" stroke="#333" stroke-width="0.3" textLength="28" lengthAdjust="spacingAndGlyphs">FLOW</text>
<text x="224" y="416.6" font-size="12" text-anchor="start" fill="#2a2a2a" >1、执行机构</text>
<text x="224" y="433.75" font-size="12" text-anchor="start" fill="#2a2a2a" >2、填料</text>
<text x="224" y="450.90000000000003" font-size="12" text-anchor="start" fill="#2a2a2a" >3、阀盖</text>
<text x="224" y="468.05" font-size="12" text-anchor="start" fill="#2a2a2a" >4、阀杆</text>
<text x="224" y="485.20000000000005" font-size="12" text-anchor="start" fill="#2a2a2a" >5、节流组件</text>
<text x="224" y="502.35" font-size="12" text-anchor="start" fill="#2a2a2a" >6、阀体</text>
<text x="224" y="519.5" font-size="12" text-anchor="start" fill="#2a2a2a" >7、阀座</text>
<text x="224" y="536.65" font-size="12" text-anchor="start" fill="#2a2a2a" >8、副阀体</text>
<text x="224" y="553.8000000000001" font-size="12" text-anchor="start" fill="#2a2a2a" >9、螺纹法兰</text>
<text x="224" y="570.95" font-size="12" text-anchor="start" fill="#2a2a2a" >10、接管</text>
</g>
</svg>
</body></html>
